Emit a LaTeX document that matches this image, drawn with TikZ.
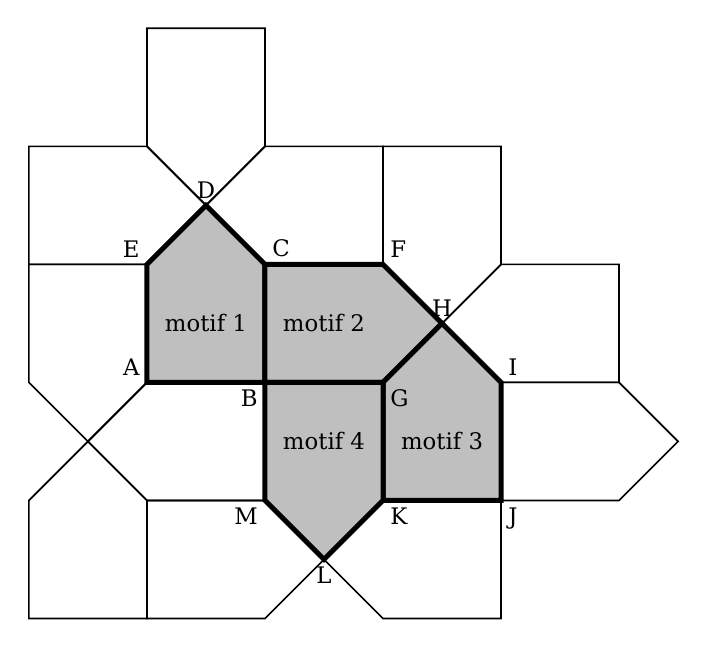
\documentclass[tikz,border=0pt]{standalone}
\usepackage{fontspec}
\setmainfont{DejaVu Serif}
\tikzset{tile/.style={draw=black, line width=0.8pt, line join=miter},
  motif/.style={draw=black, fill=black!25, line width=2.4pt, line join=miter},
  lbl/.style={font=\fontsize{11}{13}\selectfont}}
\begin{document}
\begin{tikzpicture}[x=1cm,y=1cm]
\useasboundingbox (-0.49,-0.49) rectangle (11.49,10.48);
% points
\coordinate (D) at (3,7); \coordinate (E) at (2,6); \coordinate (C) at (4,6);
\coordinate (F) at (6,6); \coordinate (H) at (7,5); \coordinate (I) at (8,4);
\coordinate (A) at (2,4); \coordinate (B) at (4,4); \coordinate (G) at (6,4);
\coordinate (M) at (4,2); \coordinate (K) at (6,2); \coordinate (J) at (8,2);
\coordinate (L) at (5,1);
% thin tiles
\draw[tile] (2,8) -- (2,10) -- (4,10) -- (4,8) -- (D) -- cycle;
\draw[tile] (0,6) -- (0,8) -- (2,8) -- (D) -- (E) -- cycle;
\draw[tile] (4,8) -- (6,8) -- (F) -- (C) -- (D) -- cycle;
\draw[tile] (6,8) -- (8,8) -- (8,6) -- (H) -- (F) -- cycle;
\draw[tile] (8,6) -- (10,6) -- (10,4) -- (I) -- (H) -- cycle;
\draw[tile] (I) -- (10,4) -- (11,3) -- (10,2) -- (J) -- cycle;
\draw[tile] (0,6) -- (E) -- (A) -- (1,3) -- (0,4) -- cycle;
\draw[tile] (A) -- (B) -- (M) -- (2,2) -- (1,3) -- cycle;
\draw[tile] (1,3) -- (2,2) -- (2,0) -- (0,0) -- (0,2) -- cycle;
\draw[tile] (2,2) -- (M) -- (L) -- (4,0) -- (2,0) -- cycle;
\draw[tile] (K) -- (J) -- (8,0) -- (6,0) -- (L) -- cycle;
% motifs
\draw[motif] (E) -- (D) -- (C) -- (B) -- (A) -- cycle;
\draw[motif] (C) -- (F) -- (H) -- (G) -- (B) -- cycle;
\draw[motif] (H) -- (I) -- (J) -- (K) -- (G) -- cycle;
\draw[motif] (B) -- (G) -- (K) -- (L) -- (M) -- cycle;
\node[lbl] (m1) at (3,5) {motif 1};
\node[lbl] (m2) at (5,5) {motif 2};
\node[lbl] (m3) at (7,3) {motif 3};
\node[lbl] (m4) at (5,3) {motif 4};
% labels
\node[lbl, above] at (D) {D};
\node[lbl, above left] at (E) {E};
\node[lbl, above right] at (C) {C};
\node[lbl, above right] at (F) {F};
\node[lbl, above] at (H) {H};
\node[lbl, above right] at (I) {I};
\node[lbl, above left] at (A) {A};
\node[lbl, below left] at (B) {B};
\node[lbl, below right] at (G) {G};
\node[lbl, below left] at (M) {M};
\node[lbl, below right] at (K) {K};
\node[lbl, below right] at (J) {J};
\node[lbl, below] at (L) {L};
\end{tikzpicture}
\end{document}
